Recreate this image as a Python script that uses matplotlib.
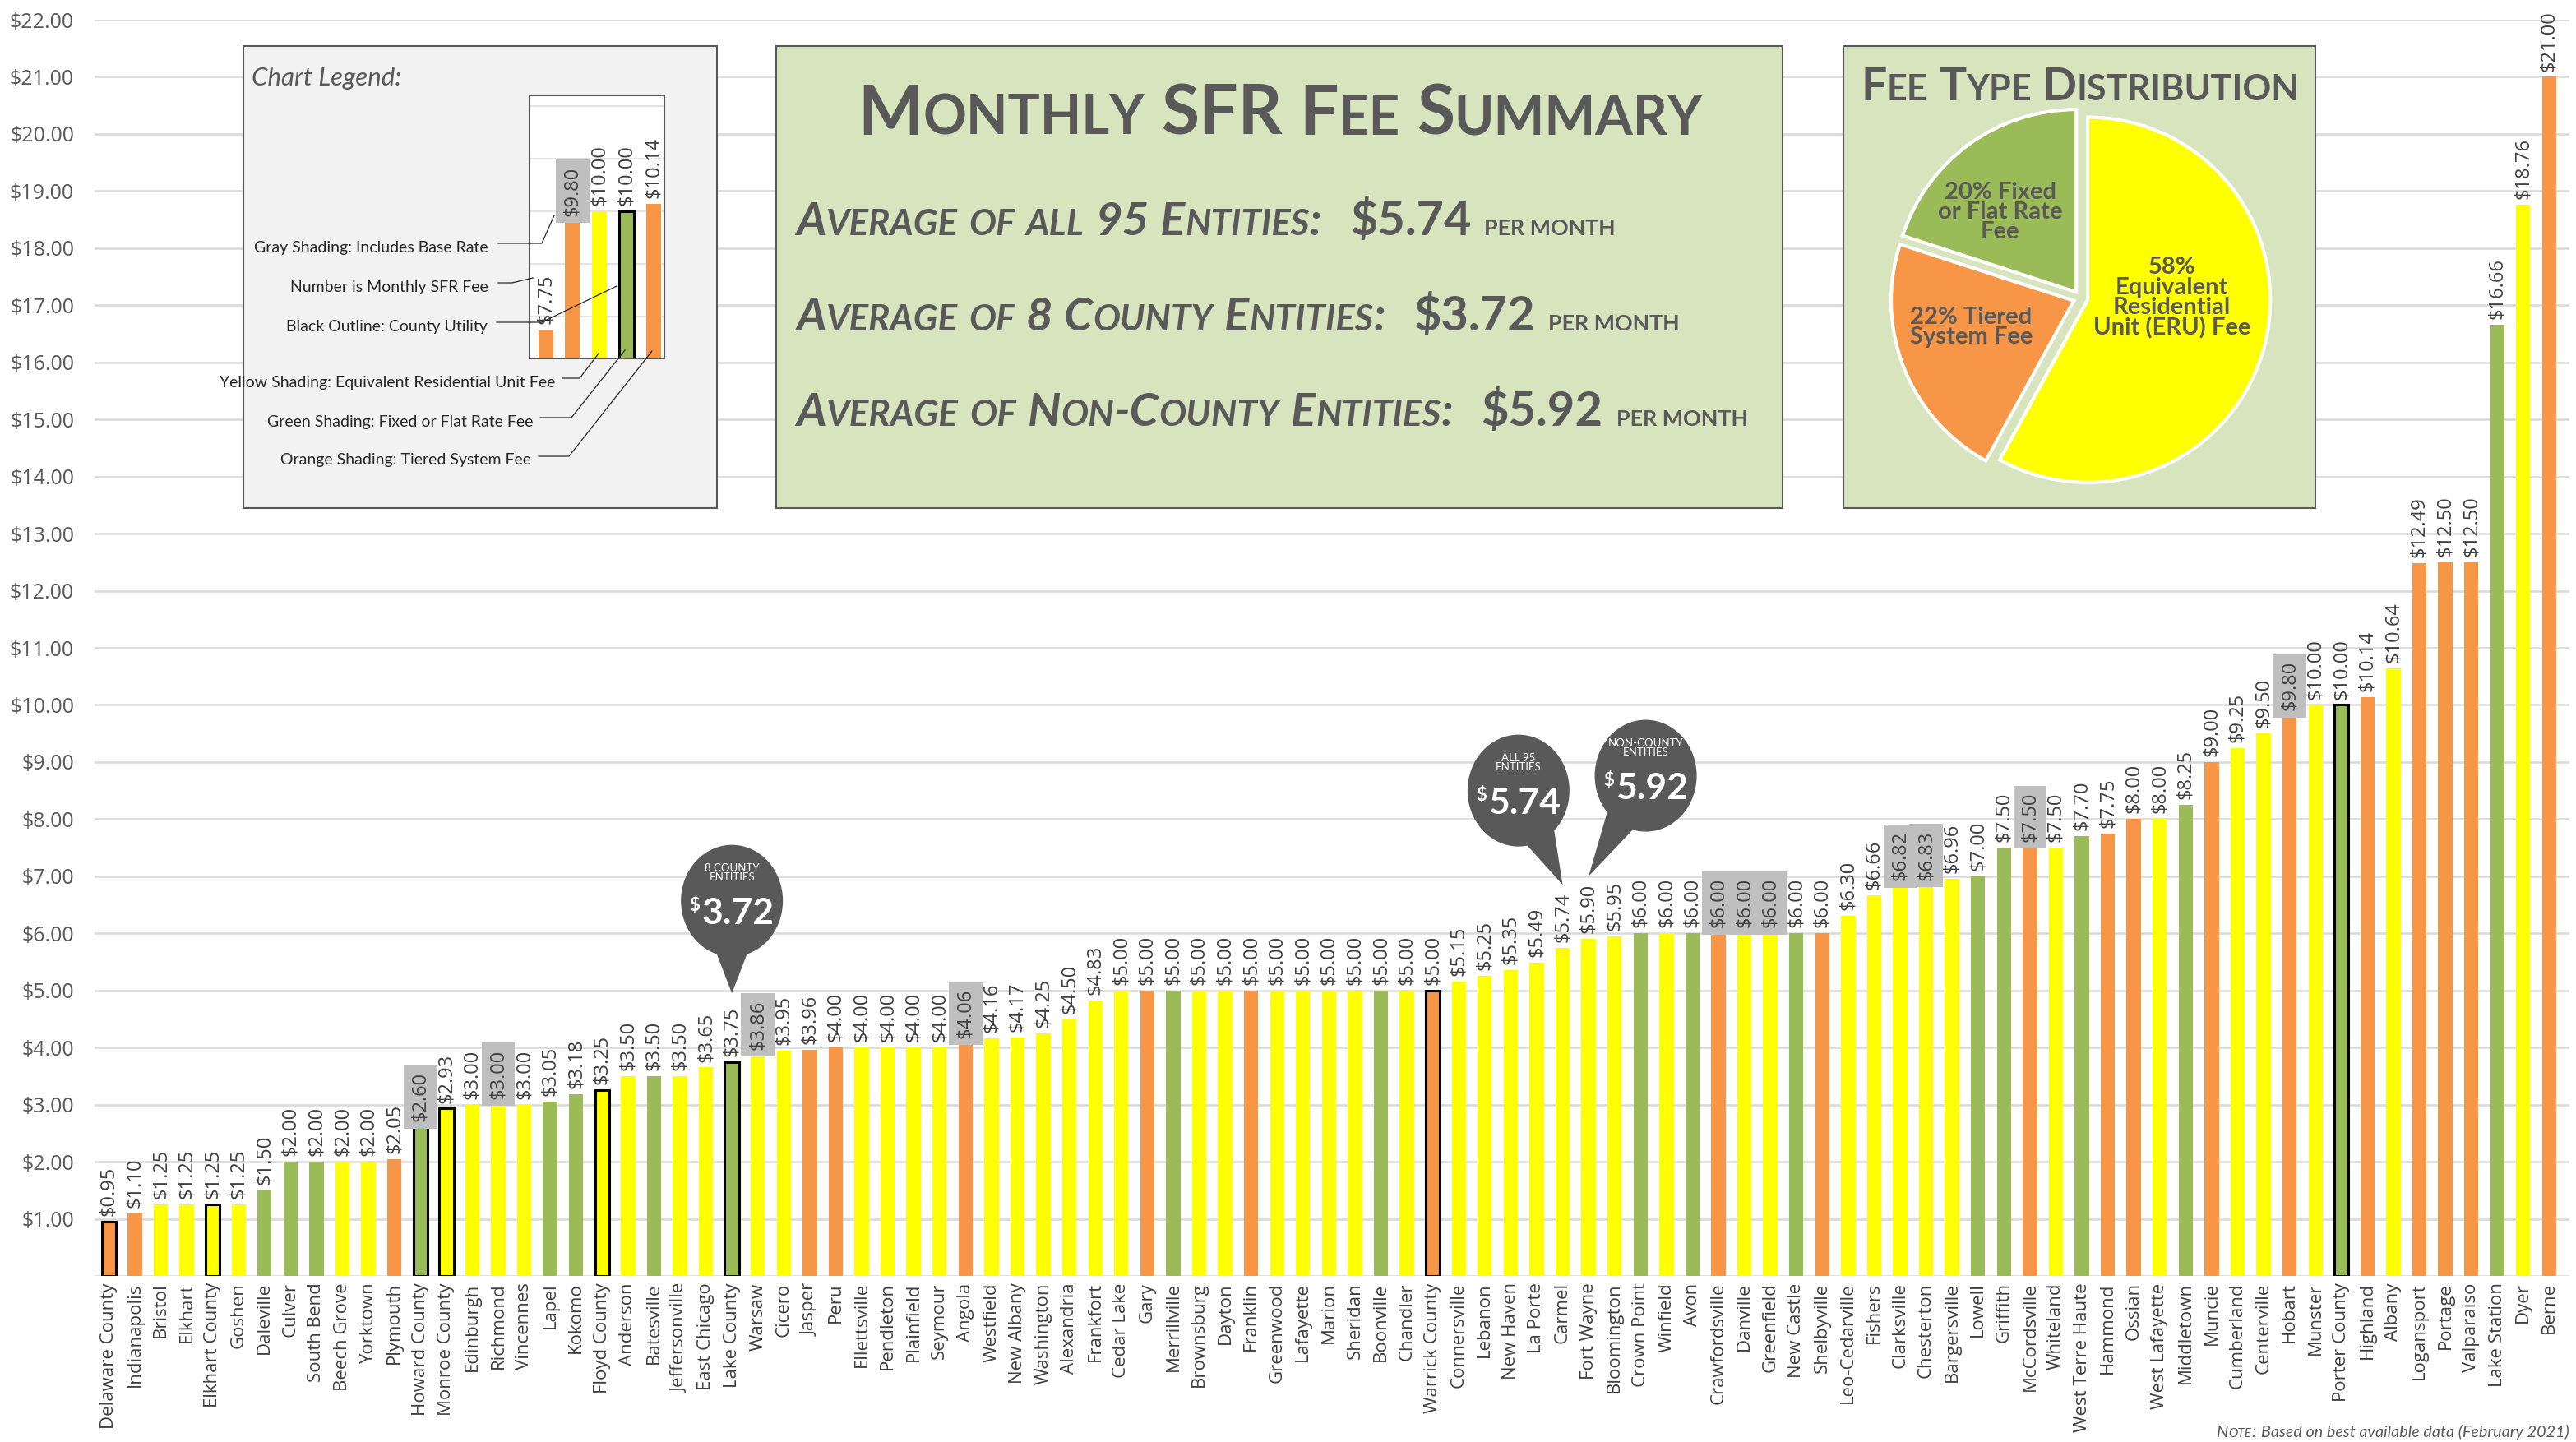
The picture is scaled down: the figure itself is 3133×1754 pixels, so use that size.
import itertools
import numpy as np
import matplotlib
matplotlib.use('Agg')
import matplotlib.pyplot as plt
from matplotlib.patches import Rectangle, Ellipse, Polygon

W, H, DPI = 3133, 1754, 100

# ---------------- dados ----------------
entidades = ['Delaware County', 'Indianapolis', 'Bristol', 'Elkhart', 'Elkhart County', 'Goshen',
             'Daleville', 'Culver', 'South Bend', 'Beech Grove', 'Yorktown', 'Plymouth',
             'Howard County', 'Monroe County', 'Edinburgh', 'Richmond', 'Vincennes', 'Lapel',
             'Kokomo', 'Floyd County', 'Anderson', 'Batesville', 'Jeffersonville', 'East Chicago',
             'Lake County', 'Warsaw', 'Cicero', 'Jasper', 'Peru', 'Ellettsville', 'Pendleton',
             'Plainfield', 'Seymour', 'Angola', 'Westfield', 'New Albany', 'Washington',
             'Alexandria', 'Frankfort', 'Cedar Lake', 'Gary', 'Merrillville', 'Brownsburg',
             'Dayton', 'Franklin', 'Greenwood', 'Lafayette', 'Marion', 'Sheridan', 'Boonville',
             'Chandler', 'Warrick County', 'Connersville', 'Lebanon', 'New Haven', 'La Porte',
             'Carmel', 'Fort Wayne', 'Bloomington', 'Crown Point', 'Winfield', 'Avon',
             'Crawfordsville', 'Danville', 'Greenfield', 'New Castle', 'Shelbyville',
             'Leo-Cedarville', 'Fishers', 'Clarksville', 'Chesterton', 'Bargersville', 'Lowell',
             'Griffith', 'McCordsville', 'Whiteland', 'West Terre Haute', 'Hammond', 'Ossian',
             'West Lafayette', 'Middletown', 'Muncie', 'Cumberland', 'Centerville', 'Hobart',
             'Munster', 'Porter County', 'Highland', 'Albany', 'Logansport', 'Portage',
             'Valparaiso', 'Lake Station', 'Dyer', 'Berne']

taxas = [0.95, 1.10, 1.25, 1.25, 1.25, 1.25, 1.50, 2.00, 2.00, 2.00, 2.00, 2.05,
         2.60, 2.93, 3.00, 3.00, 3.00, 3.05, 3.18, 3.25, 3.50, 3.50, 3.50, 3.65,
         3.75, 3.86, 3.95, 3.96, 4.00, 4.00, 4.00, 4.00, 4.00, 4.06, 4.16, 4.17, 4.25,
         4.50, 4.83, 5.00, 5.00, 5.00, 5.00, 5.00, 5.00, 5.00, 5.00, 5.00, 5.00, 5.00,
         5.00, 5.00, 5.15, 5.25, 5.35, 5.49, 5.74, 5.90, 5.95, 6.00, 6.00, 6.00,
         6.00, 6.00, 6.00, 6.00, 6.00, 6.30, 6.66, 6.82, 6.83, 6.96, 7.00,
         7.50, 7.50, 7.50, 7.70, 7.75, 8.00, 8.00, 8.25, 9.00, 9.25, 9.50, 9.80,
         10.00, 10.00, 10.14, 10.64, 12.49, 12.50, 12.50, 16.66, 18.76, 21.00]

# E = ERU (amarelo), F = fixa (verde), T = escalonada (laranja)
tipos = list('TTEEEEFFFEET' 'FEEEEFFEEFEE' 'FEETTEEEETEE' 'EEEETFEETEEE'
             'EFETEEEEEEEF' 'EFTEEFTEEEEE' 'FFTEFTTEFTEE' 'TEFTETTTFET')

condados = ['Delaware County', 'Elkhart County', 'Howard County', 'Monroe County',
            'Floyd County', 'Lake County', 'Warrick County', 'Porter County']

taxa_base = ['Howard County', 'Richmond', 'Warsaw', 'Angola', 'Crawfordsville', 'Danville',
             'Greenfield', 'Clarksville', 'Chesterton', 'McCordsville', 'Hobart']

media_todas = 5.74
media_condados = 3.72
media_nao_condados = 5.92

pizza_valores = [58, 22, 20]
pizza_tipos = ['E', 'T', 'F']
pizza_rotulos = ['58%\nEquivalent\nResidential\nUnit (ERU) Fee', '22% Tiered\nSystem Fee',
                 '20% Fixed\nor Flat Rate\nFee']

legenda_valores = [7.75, 9.80, 10.00, 10.00, 10.14]
legenda_tipos = ['T', 'T', 'E', 'F', 'T']
legenda_condado = [False, False, False, True, False]
legenda_base = [False, True, False, False, False]
legenda_textos = ['Gray Shading: Includes Base Rate', 'Number is Monthly SFR Fee',
                  'Black Outline: County Utility', 'Yellow Shading: Equivalent Residential Unit Fee',
                  'Green Shading: Fixed or Flat Rate Fee', 'Orange Shading: Tiered System Fee']

cores = {'E': '#FFFF00', 'F': '#9BBB59', 'T': '#F79646'}
CINZA = '#595959'
TEXTO = '#404040'

plt.rcParams['font.family'] = 'Open Sans'

fig = plt.figure(figsize=(W / DPI, H / DPI), dpi=DPI)
rend = fig.canvas.get_renderer()


def fr(x0, y0, x1, y1):
    # caixa em pixels (origem no topo) -> fracao da figura
    return [x0 / W, 1 - y1 / H, (x1 - x0) / W, (y1 - y0) / H]


def versalete(frase, tam, prop=0.78, **estilo):
    runs = []
    esp = tam * 0.24 * DPI / 72
    for palavra in frase.split(' '):
        for minus, grupo in itertools.groupby(palavra, key=str.islower):
            s = ''.join(grupo).upper()
            runs.append(dict(t=s, s=tam * prop if minus else tam, g=0, **estilo))
        runs[-1]['g'] = esp
    runs[-1]['g'] = 0
    return runs


def escreve(ax_, x, y, runs, ha='left', largura=None, cor=CINZA, zorder=10):
    # escreve pedacos de texto lado a lado (para versaletes)
    def montar(esc):
        objs, larg = [], []
        for r in runs:
            t = ax_.text(x, y + r.get('dy', 0) * esc, r['t'], fontsize=r['s'] * esc, color=cor,
                         family=r.get('f', 'Lato'), fontweight=r.get('w', 'bold'),
                         fontstyle=r.get('st', 'normal'), ha='left', va='baseline', zorder=zorder)
            objs.append(t)
            larg.append(t.get_window_extent(rend).width)
        total = sum(larg) + sum(r.get('g', 0) * esc for r in runs[:-1])
        return objs, larg, total
    esc = 1.0
    objs, larg, total = montar(esc)
    if largura:
        esc = largura / total
        for o in objs:
            o.remove()
        objs, larg, total = montar(esc)
    x0 = {'left': x, 'center': x - total / 2, 'right': x - total}[ha]
    for o, w, r in zip(objs, larg, runs):
        o.set_x(x0)
        x0 += w + r.get('g', 0) * esc


def barras(ax_, valores, tps, cond, base, tam=17):
    x = np.arange(len(valores))
    ax_.bar(x, valores, width=0.55, color=[cores[t] for t in tps],
            edgecolor=['black' if c else 'none' for c in cond],
            linewidth=[2.2 if c else 0 for c in cond], zorder=2)
    for xi, v, b in zip(x, valores, base):
        kw = {}
        if b:
            kw['bbox'] = dict(boxstyle='square,pad=0.35', fc='#BFBFBF', ec='none')
        ax_.annotate(f'${v:.2f}', (xi, v), xytext=(0, 5), textcoords='offset points',
                     rotation=90, ha='center', va='bottom', fontsize=tam, color=TEXTO,
                     zorder=3, **kw)
    return x


# ---------------- grafico principal ----------------
ax = fig.add_axes(fr(115, 24, 3125, 1552))
x = barras(ax, taxas, tipos, [e in condados for e in entidades], [e in taxa_base for e in entidades])
ax.set_xlim(-0.55, 94.78)
ax.set_ylim(0, 22)
ax.set_yticks(range(0, 23))
ax.set_yticklabels([''] + [f'${i}.00' for i in range(1, 23)])
ax.tick_params(axis='y', length=0, pad=18, labelsize=18, labelcolor=CINZA)
ax.set_xticks(x)
ax.set_xticklabels(entidades, rotation=90, fontsize=16, color=TEXTO)
ax.tick_params(axis='x', length=0, pad=6)
ax.grid(axis='y', color='#D9D9D9', lw=1.8)
ax.set_axisbelow(True)
for s in ax.spines.values():
    s.set_visible(False)

# camada de fundo das caixas
ov0 = fig.add_axes([0, 0, 1, 1], zorder=3)
ov0.set_xlim(0, W)
ov0.set_ylim(H, 0)
ov0.axis('off')
ov0.add_patch(Rectangle((296, 56), 576, 562, fc='#F2F2F2', ec=CINZA, lw=1.5))
ov0.add_patch(Rectangle((944, 56), 1224, 562, fc='#D7E4BD', ec=CINZA, lw=1.5))
ov0.add_patch(Rectangle((2242, 56), 574, 562, fc='#D7E4BD', ec=CINZA, lw=1.5))

# mini grafico da legenda
axl = fig.add_axes(fr(644, 116, 808, 436), zorder=5)
barras(axl, legenda_valores, legenda_tipos, legenda_condado, legenda_base)
axl.set_xlim(-0.6, 4.4)
axl.set_ylim(7.2, 12.2)
axl.set_yticks(range(8, 13))
axl.set_xticks([])
axl.tick_params(left=False, labelleft=False)
axl.grid(axis='y', color='#E3E3E3', lw=1.5)
axl.set_axisbelow(True)
for s in axl.spines.values():
    s.set_color(CINZA)
    s.set_linewidth(1.5)

# pizza
axp = fig.add_axes(fr(2275, 107, 2786, 618), zorder=5)
axp.pie(pizza_valores, colors=[cores[t] for t in pizza_tipos], startangle=90, counterclock=False,
        explode=[0.04] * 3, wedgeprops=dict(edgecolor='white', linewidth=3))
axp.set_xlim(-1.15, 1.15)
axp.set_ylim(-1.15, 1.15)
for rot, (px, py) in zip(pizza_rotulos, [(0.5, 0.0), (-0.6, -0.16), (-0.44, 0.47)]):
    axp.text(px, py, rot, ha='center', va='center', fontsize=21, fontweight='bold',
             family='Lato', color=CINZA, linespacing=0.92)

# camada de textos
ov = fig.add_axes([0, 0, 1, 1], zorder=7)
ov.set_xlim(0, W)
ov.set_ylim(H, 0)
ov.axis('off')

# legenda
escreve(ov, 306, 104, [dict(t='Chart Legend:', s=15, w='normal', st='italic')], largura=182)
pos_textos = [(594, 302), (594, 350), (593, 398), (675, 466), (648, 514), (646, 560)]
guias = [[(606, 296), (659, 296), (674, 262)], [(606, 344), (623, 344), (648, 338)],
         [(604, 392), (659, 392), (750, 348)], [(684, 460), (705, 460), (728, 430)],
         [(657, 508), (695, 508), (760, 426)], [(655, 555), (692, 555), (793, 427)]]
for txt, (tx, ty), g in zip(legenda_textos, pos_textos, guias):
    ov.text(tx, ty, txt, ha='right', va='center', fontsize=14, family='Lato', color='#262626')
    gx, gy = zip(*g)
    ov.plot(gx, gy, color='#262626', lw=0.9)

# resumo
escreve(ov, 1557, 164, versalete('Monthly SFR Fee Summary', 60), ha='center', largura=1030)
linhas = [('Average of all 95 Entities:', media_todas, 286, 998),
          ('Average of 8 County Entities:', media_condados, 402, 1076),
          ('Average of Non-County Entities:', media_nao_condados, 518, 1158)]
for frase, val, yb, larg in linhas:
    runs = versalete(frase, 40, st='italic')
    runs[-1]['g'] = 34
    runs.append(dict(t=f'${val:.2f}', s=41, g=16))
    runs.append(dict(t='PER MONTH', s=19))
    escreve(ov, 968, yb, runs, largura=larg)

escreve(ov, 2530, 122, versalete('Fee Type Distribution', 40), ha='center', largura=532)

# nota
nota = versalete('Note:', 15.5, prop=0.75, w='normal', st='italic')
nota[-1]['g'] = 7
nota.append(dict(t='Based on best available data (February 2021)', s=15, w='normal', st='italic'))
escreve(ov, 2696, 1748, nota, largura=428)


# baloes das medias
def d2p(xd, yd):
    X, Y = ax.transData.transform((xd, yd))
    return X, H - Y


baloes = [('8 COUNTY\nENTITIES', media_condados, 24.0, 6.57, 24, 4.95),
          ('ALL 95\nENTITIES', media_todas, 54.3, 8.5, 56, 6.85),
          ('NON-COUNTY\nENTITIES', media_nao_condados, 59.2, 8.76, 57, 7.0)]
rx, ry = 62, 68
for rot, val, cx, cy, tx, ty in baloes:
    cxp, cyp = d2p(cx, cy)
    txp, typ = d2p(tx, ty)
    ov.add_patch(Ellipse((cxp, cyp), 2 * rx, 2 * ry, fc=CINZA, ec='none', zorder=8))
    phi = np.arctan2((typ - cyp) / ry, (txp - cxp) / rx)
    base = [(cxp + rx * np.cos(phi + d), cyp + ry * np.sin(phi + d)) for d in (-0.3, 0.3)]
    ov.add_patch(Polygon([base[0], (txp, typ), base[1]], closed=True, fc=CINZA, ec='none', zorder=8))
    ov.text(cxp, cyp - 34, rot, ha='center', va='center', color='white', fontsize=9.5,
            linespacing=0.9, family='Lato', zorder=9)
    escreve(ov, cxp, cyp + 28, [dict(t='$', s=16, dy=-16, g=2), dict(t=f'{val:.2f}', s=32)],
            ha='center', cor='white', zorder=9)

fig.savefig('out.png', dpi=DPI, facecolor='white')
